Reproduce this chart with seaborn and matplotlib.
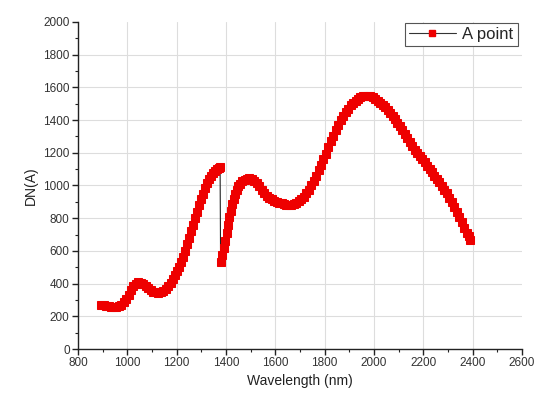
import matplotlib
matplotlib.use("Agg")
import matplotlib.pyplot as plt
import seaborn as sns
import pandas as pd
from matplotlib.ticker import MultipleLocator
from matplotlib.lines import Line2D

wavelength = [895, 905, 915, 925, 935, 945, 955, 965, 975, 985, 995, 1005, 1015, 1025,
              1035, 1045, 1055, 1065, 1075, 1085, 1095, 1105, 1115, 1125, 1135, 1145,
              1155, 1165, 1175, 1185, 1195, 1203, 1211, 1219, 1227, 1235, 1243, 1251,
              1259, 1267, 1275, 1283, 1291, 1299, 1307, 1315, 1323, 1331, 1339, 1347,
              1355, 1363, 1370, 1376,
              1378, 1384, 1390, 1396, 1402, 1408, 1414, 1420, 1426, 1432, 1438, 1444,
              1450, 1457, 1465, 1475, 1485, 1495, 1505, 1515, 1525, 1535, 1545, 1555,
              1565, 1575, 1585, 1595, 1605, 1615, 1625, 1635, 1645, 1655, 1665, 1675,
              1685, 1695, 1705, 1715, 1725, 1735, 1745, 1755, 1765, 1775, 1785, 1795,
              1805, 1815, 1825, 1835, 1845, 1855, 1865, 1875, 1885, 1895, 1905, 1915,
              1925, 1935, 1945, 1955, 1965, 1975, 1985, 1995, 2005, 2015, 2025, 2035,
              2045, 2055, 2065, 2075, 2085, 2095, 2105, 2115, 2125, 2135, 2145, 2155,
              2165, 2175, 2185, 2195, 2205, 2215, 2225, 2235, 2245, 2255, 2265, 2275,
              2285, 2295, 2305, 2315, 2325, 2335, 2345, 2355, 2365, 2375, 2383, 2390]
dn_a = [268, 270, 266, 262, 258, 255, 256, 260, 270, 285, 305, 330, 360, 385,
        400, 408, 406, 398, 385, 370, 358, 350, 346, 345, 348, 356,
        368, 385, 405, 428, 452, 475, 500, 530, 565, 600, 640, 680,
        720, 760, 800, 840, 880, 915, 950, 985, 1015, 1040, 1060, 1075,
        1090, 1100, 1108, 1112,
        535, 575, 615, 660, 710, 760, 805, 845, 885, 920, 950, 975,
        995, 1012, 1025, 1035, 1042, 1045, 1040, 1030, 1015, 995, 975, 955,
        938, 925, 915, 908, 900, 895, 890, 884, 880, 880, 882, 886,
        893, 903, 916, 932, 952, 975, 1000, 1030, 1060, 1093, 1125, 1160,
        1195, 1235, 1270, 1305, 1340, 1372, 1400, 1425, 1448, 1470, 1490, 1505,
        1518, 1530, 1538, 1545, 1548, 1548, 1545, 1538, 1530, 1518, 1505, 1492,
        1478, 1462, 1445, 1425, 1405, 1385, 1362, 1338, 1312, 1288, 1265, 1242,
        1218, 1198, 1180, 1162, 1142, 1122, 1100, 1080, 1060, 1040, 1020, 998,
        975, 952, 925, 898, 870, 840, 808, 775, 742, 710, 688, 668]
series_name = "A point"
x_label = "Wavelength (nm)"
y_label = "DN(A)"

df = pd.DataFrame({"Wavelength": wavelength, "DN": dn_a})

sns.set_style("white")
plt.rcParams['font.family'] = ['Liberation Sans', 'DejaVu Sans']

fig = plt.figure(figsize=(5.36, 3.99), dpi=100)
ax = fig.add_axes([0.1455, 0.1253, 0.8285, 0.8197])

sns.lineplot(data=df, x="Wavelength", y="DN", ax=ax, sort=False,
             color="#222222", linewidth=0.8, marker="s", markersize=6,
             markerfacecolor="#ee0000", markeredgecolor="#ee0000", zorder=3)

ax.set_xlim(800, 2600)
ax.set_ylim(0, 2000)
ax.xaxis.set_major_locator(MultipleLocator(200))
ax.xaxis.set_minor_locator(MultipleLocator(100))
ax.yaxis.set_major_locator(MultipleLocator(200))
ax.yaxis.set_minor_locator(MultipleLocator(100))

ax.grid(True, which="major", color="#dddddd", linewidth=0.8)
ax.set_axisbelow(True)
for sp in ["top", "right"]:
    ax.spines[sp].set_visible(False)
for sp in ["left", "bottom"]:
    ax.spines[sp].set_color("#222222")
    ax.spines[sp].set_linewidth(1.0)

ax.tick_params(axis="both", which="both", bottom=True, left=True, top=False, right=False)
ax.tick_params(axis="both", which="major", direction="out", length=4, width=1,
               color="#222222", labelsize=8.5, labelcolor="#333333", pad=2)
ax.tick_params(axis="both", which="minor", direction="out", length=2.5, width=0.8,
               color="#222222")

ax.set_xlabel(x_label, fontsize=10, color="#222222", labelpad=3)
ax.set_ylabel(y_label, fontsize=10, color="#222222", labelpad=4)

fig.canvas.draw()
for gl, t in zip(ax.yaxis.get_gridlines(), ax.get_yticks()):
    if t >= 2000:
        gl.set_visible(False)
for gl, t in zip(ax.xaxis.get_gridlines(), ax.get_xticks()):
    if t >= 2600:
        gl.set_visible(False)

handle = Line2D([], [], color="#333333", linewidth=0.8, marker="s", markersize=5,
                markerfacecolor="#ee0000", markeredgecolor="#ee0000")
leg = ax.legend([handle], [series_name], loc="upper right", fontsize=12,
                frameon=True, fancybox=False, framealpha=1, edgecolor="#555555",
                borderpad=0.25, handlelength=2.8, handletextpad=0.4,
                bbox_to_anchor=(0.99, 0.997), borderaxespad=0.0)
leg.get_frame().set_linewidth(0.8)

fig.savefig("out.png", dpi=100)
